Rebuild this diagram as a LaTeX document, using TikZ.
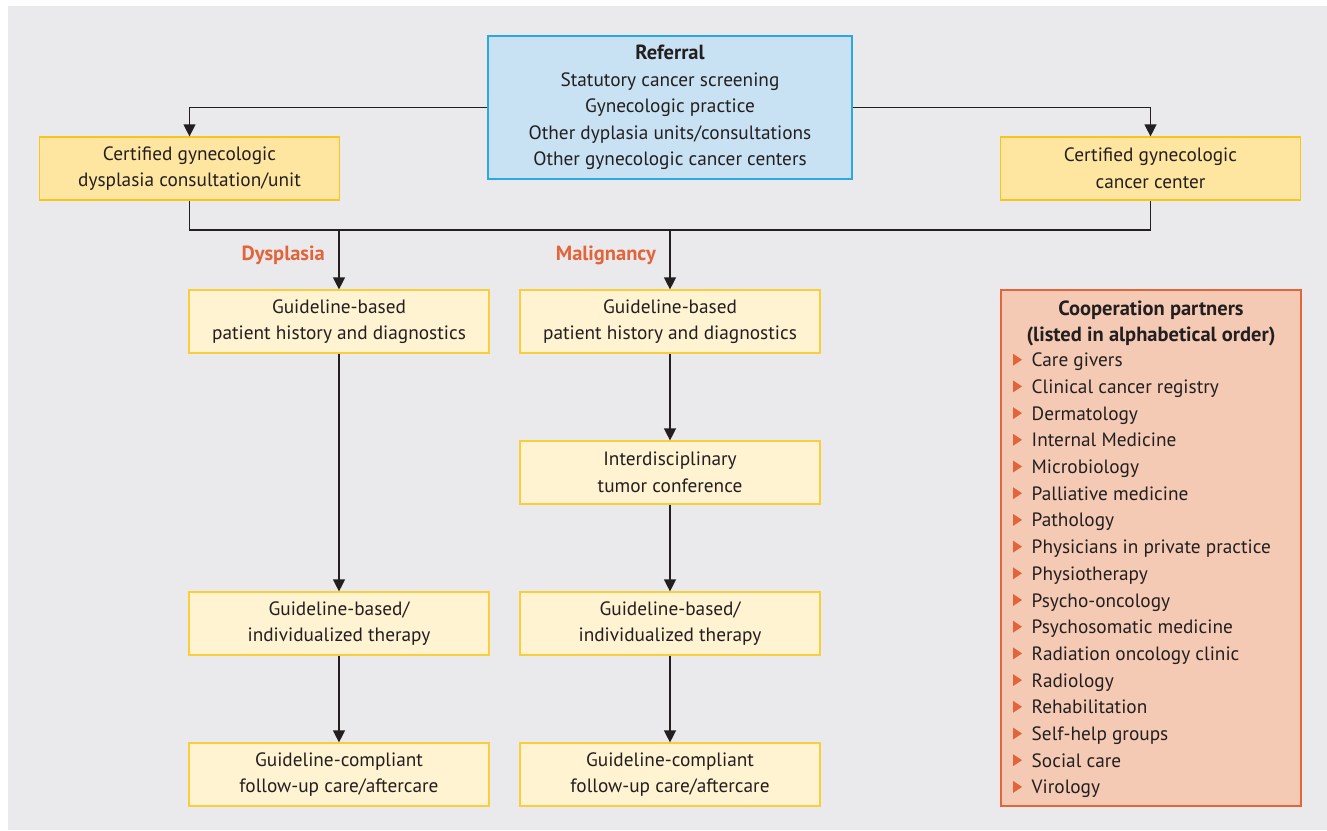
\documentclass[tikz,border=0pt]{standalone}
\usepackage{fontspec}
\setmainfont{PT Sans}
\usetikzlibrary{arrows.meta}
\definecolor{bg}{RGB}{234,234,236}
\definecolor{txt}{RGB}{35,31,32}
\definecolor{bluef}{RGB}{200,226,244}
\definecolor{blueb}{RGB}{42,168,224}
\definecolor{ytopf}{RGB}{255,230,160}
\definecolor{ytopb}{RGB}{246,198,30}
\definecolor{ylowf}{RGB}{255,243,210}
\definecolor{ylowb}{RGB}{248,206,60}
\definecolor{orf}{RGB}{245,202,180}
\definecolor{orb}{RGB}{229,101,58}
\definecolor{ortxt}{RGB}{226,100,58}
\newcommand{\myfnt}{\fontsize{19.3}{26.6}\selectfont}
\newcommand{\mybold}{\fontsize{20.5}{26.6}\selectfont\bfseries}
\begin{document}
\begin{tikzpicture}[x=1pt,y=-1pt,
  box/.style={draw, line width=1.2pt, minimum width=300pt, minimum height=63pt, align=center, inner sep=0pt, font=\myfnt, text=txt},
  topbox/.style={box, fill=ytopf, draw=ytopb},
  lowbox/.style={box, fill=ylowf, draw=ylowb},
  arr/.style={-{Triangle[width=12pt,length=12pt]}, line width=1.3pt, draw=txt},
  ln/.style={line width=1.3pt, draw=txt},
  lbl/.style={font=\mybold, text=ortxt, inner sep=0pt, anchor=east},
  item/.style={font=\myfnt, text=txt, inner sep=0pt, anchor=base west}
]
\useasboundingbox (0,0) rectangle (1327,830);
\fill[bg] (8,6) rectangle (1327,830);

\node[box, fill=bluef, draw=blueb, minimum width=364pt, minimum height=143pt] (ref) at (670,107.5)
  {{\mybold Referral}\\Statutory cancer screening\\Gynecologic practice\\Other dyplasia units/consultations\\Other gynecologic cancer centers};

\node[topbox] (lt) at (189.5,168.5) {Certified gynecologic\\dysplasia consultation/unit};
\node[topbox] (rt) at (1150.5,168.5) {Certified gynecologic\\cancer center};

\node[lowbox] (d1) at (339,321.5) {Guideline-based\\patient history and diagnostics};
\node[lowbox] (d2) at (339,623.5) {Guideline-based/\\individualized therapy};
\node[lowbox] (d3) at (339,774.5) {Guideline-compliant\\follow-up care/aftercare};

\node[lowbox] (m1) at (670,321.5) {Guideline-based\\patient history and diagnostics};
\node[lowbox] (m2) at (670,472.5) {Interdisciplinary\\tumor conference};
\node[lowbox] (m3) at (670,623.5) {Guideline-based/\\individualized therapy};
\node[lowbox] (m4) at (670,774.5) {Guideline-compliant\\follow-up care/aftercare};

\node[lbl] (dys) at (325,255) {Dysplasia};
\node[lbl] (mal) at (656,255) {Malignancy};

\coordinate (jl) at (189.5,230);
\coordinate (jr) at (1150.5,230);

\draw[arr] (ref.west) -| (lt.north);
\draw[arr] (ref.east) -| (rt.north);
\draw[ln] (lt.south) -- (jl) -- (jr) -- (rt.south);
\draw[arr] (d1.north |- jl) -- (d1.north);
\draw[arr] (m1.north |- jl) -- (m1.north);
\draw[arr] (d1) -- (d2);
\draw[arr] (d2) -- (d3);
\draw[arr] (m1) -- (m2);
\draw[arr] (m2) -- (m3);
\draw[arr] (m3) -- (m4);

\node[box, fill=orf, draw=orb, minimum width=300pt, minimum height=516pt] (coop) at (1151,548) {};
\node[font=\mybold, text=txt, inner sep=0pt, anchor=base] (t1) at (1151,315) {Cooperation partners};
\node[font=\mybold, text=txt, inner sep=0pt, anchor=base] (t2) at (1151,341) {(listed in alphabetical order)};
\foreach \t [count=\i from 0] in {Care givers,Clinical cancer registry,Dermatology,Internal Medicine,Microbiology,Palliative medicine,Pathology,Physicians in private practice,Physiotherapy,Psycho-oncology,Psychosomatic medicine,Radiation oncology clinic,Radiology,Rehabilitation,Self-help groups,Social care,Virology}{
  \pgfmathsetmacro{\yy}{366.7+26.7*\i}
  \fill[ortxt] (1013,\yy-13) -- (1013,\yy-1) -- (1022,\yy-7) -- cycle;
  \node[item] (it\i) at (1031.5,\yy) {\t};
}
\end{tikzpicture}
\end{document}
